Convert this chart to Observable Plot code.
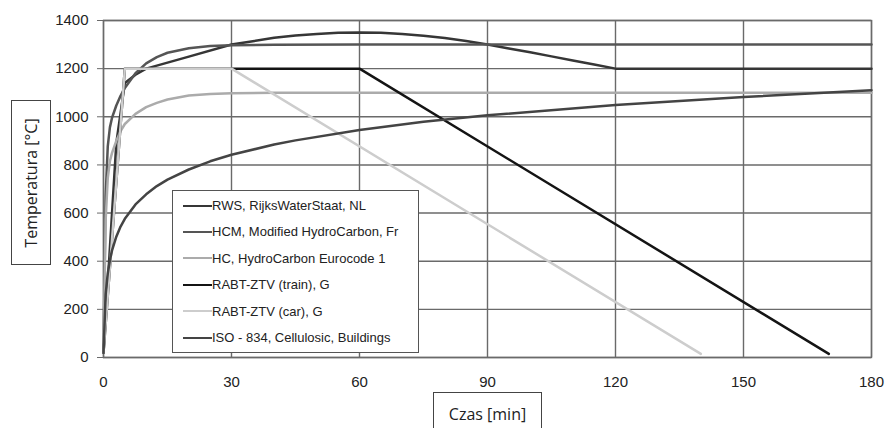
<!DOCTYPE html>
<html>
<head>
<meta charset="utf-8">
<script src="https://cdn.jsdelivr.net/npm/d3@7"></script>
<script src="https://cdn.jsdelivr.net/npm/@observablehq/plot@0.6"></script>
<style>
  html, body { margin: 0; padding: 0; background: #fff; }
  #wrap { position: relative; width: 885px; height: 428px; overflow: hidden; background: #fff; }
  #wrap svg text { font-family: "Liberation Sans", Arial, sans-serif; }
  #legend { position: absolute; left: 172px; top: 190px; width: 245px; height: 161px; border: 1.5px solid #555; background: #fff; font-family: "Liberation Sans", Arial, sans-serif; font-size: 13px; color: #222; }
  .row { position: absolute; left: 10px; height: 16px; line-height: 16px; white-space: nowrap; }
  .sw { display: inline-block; width: 29px; height: 0; border-top-style: solid; border-top-width: 2.5px; vertical-align: middle; margin-top: -2px; }
  .lab { position: absolute; border: 1.5px solid #444; background: #fff; font-family: "Open Sans", sans-serif; font-size: 16px; color: #222; }
</style>
</head>
<body>
<div id="wrap"></div>
<script>
// ---- data ----
const xTicks = [0, 30, 60, 90, 120, 150, 180];
const yTicks = [0, 200, 400, 600, 800, 1000, 1200, 1400];

const seriesNames = [
  "RWS, RijksWaterStaat, NL",
  "HCM, Modified HydroCarbon, Fr",
  "HC, HydroCarbon Eurocode 1",
  "RABT-ZTV (train), G",
  "RABT-ZTV (car), G",
  "ISO - 834, Cellulosic, Buildings"
];
const seriesColors = ["#363636", "#555555", "#ababab", "#141414", "#cdcdcd", "#444444"];

const rwsT = [0, 1, 2, 3, 4, 5, 7.5, 10, 20, 30, 35, 40, 45, 50, 55, 60, 65, 70, 75, 80, 85, 90, 95, 100, 105, 110, 115, 120, 180];
const rwsV = [20, 310, 600, 890, 1015, 1140, 1175, 1200, 1250, 1300, 1314, 1328, 1338, 1344, 1349, 1350, 1349, 1344, 1337, 1327, 1315, 1300, 1284, 1268, 1251, 1234, 1217, 1200, 1200];

const hcmT = [0, 0.5, 1, 1.5, 2, 3, 4, 5, 7.5, 10, 12.5, 15, 20, 25, 30, 40, 60, 180];
const hcmV = [20, 670, 877, 956, 996, 1047, 1087, 1120, 1181, 1222, 1248, 1266, 1285, 1294, 1297, 1299, 1300, 1300];

const hcT = [0, 0.5, 1, 1.5, 2, 3, 4, 5, 7.5, 10, 12.5, 15, 20, 25, 30, 40, 60, 180];
const hcV = [20, 570, 745, 815, 850, 900, 940, 970, 1012, 1040, 1058, 1072, 1088, 1095, 1098, 1100, 1100, 1100];

const trainT = [0, 5, 60, 170];
const trainV = [20, 1200, 1200, 15];

const carT = [0, 5, 30, 140];
const carV = [20, 1200, 1200, 15];

const isoT = [0, 0.5, 1, 1.5, 2, 3, 4, 5, 7.5, 10, 12.5, 15, 20, 25, 30, 40, 45, 60, 75, 90, 120, 150, 180];
const isoV = [20, 261, 349, 404, 445, 502, 544, 576, 636, 678, 712, 739, 781, 815, 842, 885, 902, 945, 979, 1006, 1049, 1082, 1110];

// ---- build ----
const allT = [rwsT, hcmT, hcT, trainT, carT, isoT];
const allV = [rwsV, hcmV, hcV, trainV, carV, isoV];
const series = allT.map((ts, k) => ts.map((t, i) => ({t, v: allV[k][i], s: seriesNames[k]})));

const chart = Plot.plot({
  width: 885,
  height: 428,
  marginLeft: 103,
  marginRight: 14,
  marginTop: 20,
  marginBottom: 71,
  x: {domain: [0, 180], label: null},
  y: {domain: [0, 1400], label: null},
  style: {fontFamily: "'Liberation Sans', Arial, sans-serif", fontSize: "15px", color: "#222", background: "#fff"},
  marks: [
    Plot.gridX(xTicks, {stroke: "#6a6a6a", strokeOpacity: 1, strokeWidth: 1.4}),
    Plot.gridY(yTicks, {stroke: "#6a6a6a", strokeOpacity: 1, strokeWidth: 1.4}),
    Plot.frame({stroke: "#6a6a6a", strokeWidth: 1.4}),
    Plot.axisY(yTicks, {tickSize: 6, tickPadding: 9, tickFormat: d => String(d), label: null, stroke: "#6a6a6a", fill: "#222"}),
    Plot.axisX(xTicks, {tickSize: 0, tickPadding: 19, tickFormat: d => String(d), label: null, fill: "#222"}),
    ...series.map((d, k) => Plot.line(d, {x: "t", y: "v", stroke: seriesColors[k], strokeWidth: 2.5, strokeLinejoin: "round"}))
  ]
});

const wrap = document.getElementById("wrap");
wrap.appendChild(chart);

// legend
const leg = document.createElement("div");
leg.id = "legend";
seriesNames.forEach((name, i) => {
  const row = document.createElement("div");
  row.className = "row";
  row.style.top = (15 + i * 26.4 - 8) + "px";
  const sw = document.createElement("span");
  sw.className = "sw";
  sw.style.borderTopColor = seriesColors[i];
  row.appendChild(sw);
  row.appendChild(document.createTextNode(name));
  leg.appendChild(row);
});
wrap.appendChild(leg);

// axis titles in boxes
const yl = document.createElement("div");
yl.className = "lab";
yl.style.cssText += "left:11px;top:100px;width:38px;height:163px;";
const ytxt = document.createElement("div");
ytxt.textContent = "Temperatura [°C]";
ytxt.style.cssText = "position:absolute;left:50%;top:50%;transform:translate(-50%,-50%) rotate(-90deg);white-space:nowrap;";
yl.appendChild(ytxt);
wrap.appendChild(yl);

const xl = document.createElement("div");
xl.className = "lab";
xl.style.cssText += "left:433px;top:392px;width:107px;height:42px;";
const xtxt = document.createElement("div");
xtxt.textContent = "Czas [min]";
xtxt.style.cssText = "position:absolute;left:0;right:0;top:10px;text-align:center;white-space:nowrap;line-height:22px;";
xl.appendChild(xtxt);
wrap.appendChild(xl);
</script>
</body>
</html>
